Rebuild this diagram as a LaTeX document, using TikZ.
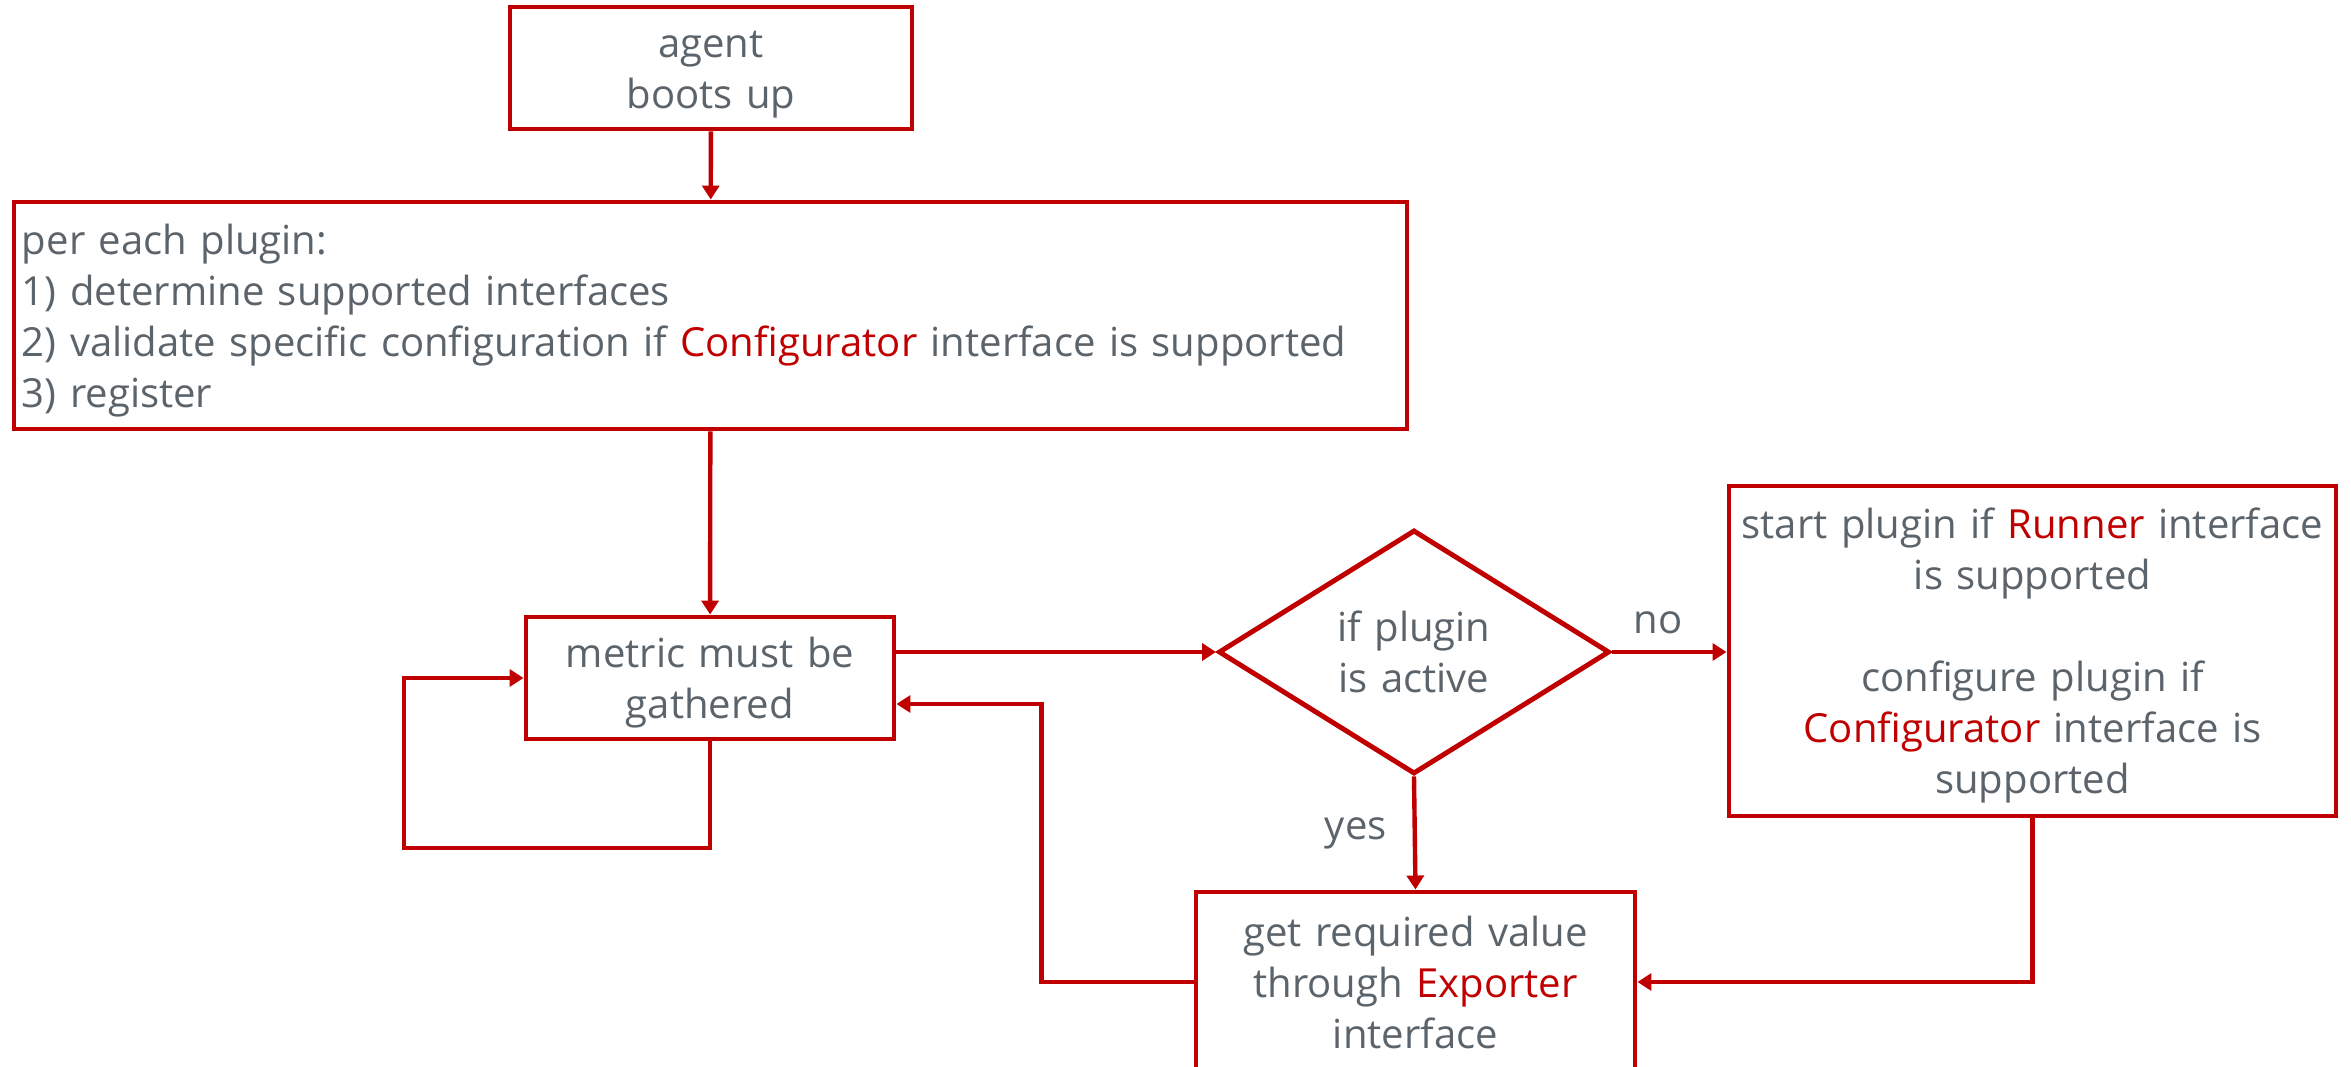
\documentclass[tikz,border=0pt]{standalone}
\usepackage{fontspec}
\setmainfont{Open Sans}
\usetikzlibrary{shapes.geometric,arrows.meta}
\definecolor{flowred}{HTML}{C00000}
\definecolor{flowgray}{HTML}{5B636B}
\newcommand{\iface}[1]{\textcolor{flowred}{#1}}
\newcommand{\flowfont}{\fontsize{22.8pt}{29pt}\selectfont}

\begin{document}
\begin{tikzpicture}[x=0.2mm,y=-0.2mm,
  textstrut/.style={execute at begin node={\rule{0pt}{23.5pt}},execute at end node={\rule[-6pt]{0pt}{0pt}}},
  block/.style={rectangle,draw=flowred,line width=2.8pt,align=center,text=flowgray,font=\flowfont,inner sep=0pt,textstrut},
  decision/.style={diamond,aspect=1.6,draw=flowred,line width=2.8pt,align=center,text=flowgray,font=\flowfont,inner sep=0pt,textstrut},
  link/.style={draw=flowred,line width=2.5pt,-{Triangle[length=2.8mm,width=3.4mm]}},
  lbl/.style={text=flowgray,font=\flowfont}]
\useasboundingbox (0,0) rectangle (2351,1067);

\path
(711,68) node [block,text width=76mm,minimum width=80.4mm,minimum height=24.4mm] (boot) {agent\\boots up}
(710.5,315.5) node [block,align=left,text width=275.4mm,minimum width=278.6mm,minimum height=45.4mm] (plugins)
  {per each plugin:\\1) determine supported interfaces\\2) validate specific configuration if \iface{Configurator} interface is supported\\3) register}
(710,678) node [block,text width=70mm,minimum width=73.6mm,minimum height=24.4mm] (metric) {metric must be\\gathered}
(1414,652) node [decision,text width=32mm,minimum width=78.2mm,minimum height=48.8mm] (active) {if plugin\\is active}
(2032.5,651) node [block,text width=120mm,minimum width=121.4mm,minimum height=66mm] (start)
  {start plugin if \iface{Runner} interface\\is supported\\[29pt]configure plugin if\\\iface{Configurator} interface is\\supported}
(1415.5,982) node [block,text width=84mm,minimum width=87.8mm,minimum height=36mm] (get) {get required value\\through \iface{Exporter}\\interface}
;

\coordinate (loop) at (404,848);

\draw[link] (boot) -- (plugins);
\draw[link] (plugins) -- (metric);
\draw[link] (metric.east |- active.west) -- (active.west);
\draw[link] (metric.south) |- (loop) |- (metric.west);
\draw[link] (active.east) -- node[lbl,above=2mm,pos=0.4] (no) {no} (active.east -| start.west);
\draw[link] (active.south) -- node[lbl,left=4mm] (yes) {yes} (get.north);
\draw[link] (start.south) |- (get.east);
\draw[link] (get.west) -- ++(-152,0) |- ([yshift=-5.2mm]metric.east);
\end{tikzpicture}
\end{document}
